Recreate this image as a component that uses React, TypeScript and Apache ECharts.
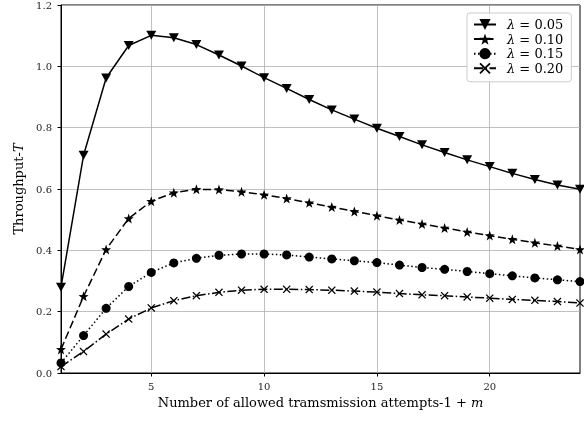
import React, { useEffect, useRef } from 'react';
import * as echarts from 'echarts';

const attempts = [1, 2, 3, 4, 5, 6, 7, 8, 9, 10, 11, 12, 13, 14, 15, 16, 17, 18, 19, 20, 21, 22, 23, 24];
const seriesNames = ['λ = 0.05', 'λ = 0.10', 'λ = 0.15', 'λ = 0.20'];
const t005 = [0.28, 0.71, 0.962, 1.068, 1.101, 1.093, 1.071, 1.037, 1.001, 0.963, 0.928, 0.892, 0.858, 0.828, 0.798, 0.771, 0.744, 0.719, 0.695, 0.673, 0.651, 0.631, 0.613, 0.599];
const t010 = [0.077, 0.25, 0.403, 0.504, 0.56, 0.588, 0.599, 0.598, 0.591, 0.581, 0.569, 0.555, 0.541, 0.527, 0.513, 0.499, 0.486, 0.473, 0.46, 0.448, 0.436, 0.425, 0.414, 0.403];
const t015 = [0.033, 0.122, 0.211, 0.282, 0.328, 0.359, 0.374, 0.384, 0.388, 0.388, 0.385, 0.378, 0.372, 0.366, 0.36, 0.352, 0.344, 0.338, 0.331, 0.324, 0.317, 0.31, 0.304, 0.298];
const t020 = [0.021, 0.07, 0.127, 0.176, 0.212, 0.236, 0.252, 0.263, 0.27, 0.273, 0.273, 0.272, 0.27, 0.267, 0.264, 0.259, 0.255, 0.252, 0.248, 0.244, 0.24, 0.237, 0.233, 0.228];
const xTicks = [5, 10, 15, 20];
const xName = 'Number of allowed tramsmission attempts-1 + {i|m}';
const yName = 'Throughput-{i|T}';

const FONT = 'DejaVu Serif';

const starPath = (() => {
  const pts: string[] = [];
  for (let i = 0; i < 10; i++) {
    const r = i % 2 === 0 ? 10 : 4;
    const a = ((-90 + i * 36) * Math.PI) / 180;
    pts.push(`${(r * Math.cos(a)).toFixed(2)},${(r * Math.sin(a)).toFixed(2)}`);
  }
  return 'path://M' + pts.join('L') + 'Z';
})();

const crossPath =
  'path://M0,1.1L1.1,0L5,3.9L8.9,0L10,1.1L6.1,5L10,8.9L8.9,10L5,6.1L1.1,10L0,8.9L3.9,5Z';

export default function App() {
  const ref = useRef<HTMLDivElement>(null);
  useEffect(() => {
    if (!ref.current) return;
    const chart = echarts.init(ref.current, undefined, { renderer: 'svg' });
    const values = [t005, t010, t015, t020];
    const styles = [
      { symbol: 'triangle', symbolRotate: 180, symbolSize: [10, 9], dash: 'solid' as any },
      { symbol: starPath, symbolRotate: 0, symbolSize: 10, dash: [8, 3.5] },
      { symbol: 'circle', symbolRotate: 0, symbolSize: 9, dash: [1.5, 2.5] },
      { symbol: crossPath, symbolRotate: 0, symbolSize: 8, dash: [9, 2.5, 1.5, 2.5] },
    ];
    const series = seriesNames.map((name, k) => ({
      name,
      type: 'line',
      data: attempts.map((x, i) => [x, values[k][i]]),
      symbol: styles[k].symbol,
      symbolRotate: styles[k].symbolRotate,
      symbolSize: styles[k].symbolSize,
      showAllSymbol: true,
      lineStyle: { color: '#000', width: 1.5, type: styles[k].dash },
      itemStyle: { color: '#000' },
      emphasis: { disabled: true },
      clip: true,
      z: 3,
    }));
    const italic = (size: number) => ({
      i: { fontStyle: 'italic', fontFamily: FONT, fontSize: size, color: '#000' },
    });
    chart.setOption({
      animation: false,
      grid: {
        left: 61,
        right: 4,
        top: 5,
        bottom: 49,
        show: true,
        borderColor: '#000',
        borderWidth: 1,
        backgroundColor: 'transparent',
      },
      legend: {
        left: 467,
        top: 13,
        orient: 'vertical',
        itemWidth: 22,
        itemHeight: 14,
        itemGap: 1.6,
        padding: [5, 8, 7, 6],
        borderColor: '#cccccc',
        borderWidth: 1,
        borderRadius: 3,
        backgroundColor: 'rgba(255,255,255,0.85)',
        data: seriesNames,
        formatter: (n: string) => n.replace('λ', '{i|λ}'),
        textStyle: {
          fontFamily: FONT,
          fontSize: 13,
          color: '#000',
          padding: [0, 0, 0, 6],
          rich: italic(13),
        },
      },
      xAxis: {
        type: 'value',
        min: 1,
        max: 24,
        name: xName,
        nameLocation: 'middle',
        nameGap: 22,
        nameTextStyle: { fontFamily: FONT, fontSize: 13, color: '#000', rich: italic(13) },
        axisLine: { show: true, lineStyle: { color: '#000', width: 1 } },
        axisTick: { show: true, length: 3.5, lineStyle: { color: '#000' }, customValues: xTicks },
        axisLabel: { fontFamily: FONT, fontSize: 10, color: '#222', margin: 8, customValues: xTicks },
        splitLine: { show: true, lineStyle: { color: '#b0b0b0', width: 0.8 } },
      },
      yAxis: {
        type: 'value',
        min: 0,
        max: 1.2,
        interval: 0.2,
        name: yName,
        nameLocation: 'middle',
        nameGap: 36,
        nameTextStyle: { fontFamily: FONT, fontSize: 13, color: '#000', rich: italic(13) },
        axisLine: { show: true, lineStyle: { color: '#000', width: 1 } },
        axisTick: { show: true, length: 3.5, lineStyle: { color: '#000' } },
        axisLabel: {
          fontFamily: FONT,
          fontSize: 10,
          color: '#222',
          margin: 9,
          formatter: (v: number) => v.toFixed(1),
        },
        splitLine: { show: true, lineStyle: { color: '#b0b0b0', width: 0.8 } },
      },
      series,
    });
    return () => chart.dispose();
  }, []);
  return <div ref={ref} style={{ position: 'fixed', left: 0, top: 0, width: 584, height: 422 }} />;
}
